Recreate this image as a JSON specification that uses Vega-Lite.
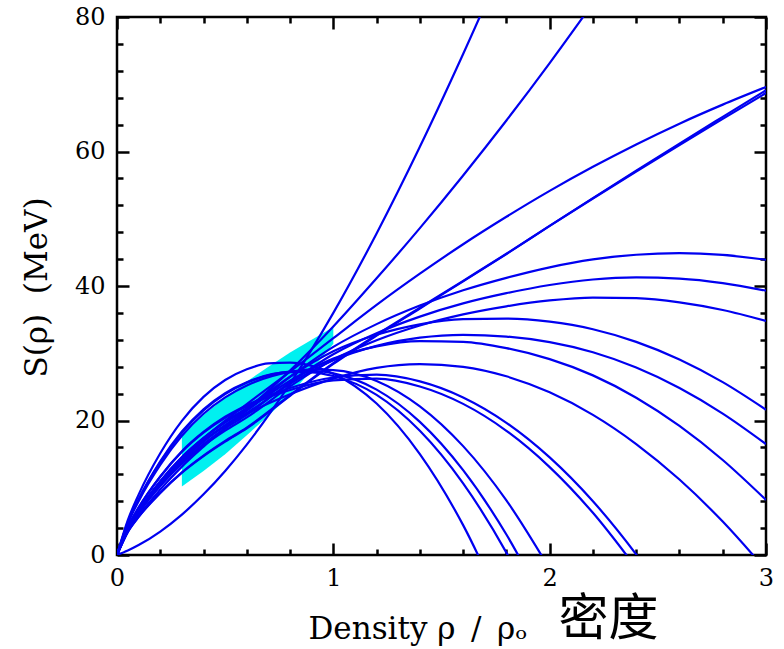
{
  "$schema": "https://vega.github.io/schema/vega-lite/v6.json",
  "width": 649,
  "height": 538,
  "autosize": {"type": "none"},
  "padding": {"left": 117, "top": 17, "right": 18, "bottom": 94},
  "background": "white",
  "config": {
    "view": {"stroke": "#000", "strokeWidth": 2.5},
    "axis": {"domain": false, "grid": false, "ticks": true, "tickColor": "#000", "tickOpacity": 1, "tickWidth": 2.5, "labelFont": "DejaVu Serif", "labelFontSize": 24, "labelColor": "#000", "titleColor": "#000"}
  },
  "datasets": {
    "band": [
      {"x": 0.3, "lo": 10.2, "hi": 17.8},
      {"x": 0.4, "lo": 12.5, "hi": 20.8},
      {"x": 0.5, "lo": 15.0, "hi": 23.4},
      {"x": 0.6, "lo": 17.8, "hi": 25.8},
      {"x": 0.7, "lo": 20.7, "hi": 28.0},
      {"x": 0.8, "lo": 23.8, "hi": 30.1},
      {"x": 0.9, "lo": 27.5, "hi": 32.0},
      {"x": 1.0, "lo": 31.4, "hi": 33.9}
    ],
    "curves": [
      {"c":"A1","x":0,"s":0},{"c":"A1","x":0.05,"s":0.67},{"c":"A1","x":0.1,"s":1.48},{"c":"A1","x":0.2,"s":3.49},{"c":"A1","x":0.3,"s":6.01},{"c":"A1","x":0.4,"s":9.02},{"c":"A1","x":0.5,"s":12.5},{"c":"A1","x":0.6,"s":16.42},{"c":"A1","x":0.8,"s":25.47},{"c":"A1","x":1.0,"s":36.0},{"c":"A1","x":1.2,"s":47.81},{"c":"A1","x":1.4,"s":60.7},{"c":"A1","x":1.6,"s":74.5},{"c":"A1","x":1.8,"s":89.0},
      {"c":"A2","x":0,"s":0},{"c":"A2","x":0.05,"s":3.51},{"c":"A2","x":0.1,"s":5.86},{"c":"A2","x":0.2,"s":9.73},{"c":"A2","x":0.3,"s":13.14},{"c":"A2","x":0.4,"s":16.12},{"c":"A2","x":0.5,"s":18.91},{"c":"A2","x":0.6,"s":21.63},{"c":"A2","x":0.8,"s":27.42},{"c":"A2","x":1.0,"s":33.98},{"c":"A2","x":1.2,"s":41.14},{"c":"A2","x":1.4,"s":48.61},{"c":"A2","x":1.6,"s":56.44},{"c":"A2","x":1.8,"s":64.61},{"c":"A2","x":2.0,"s":73.15},{"c":"A2","x":2.2,"s":82.05},
      {"c":"A3","x":0,"s":0},{"c":"A3","x":0.05,"s":3.79},{"c":"A3","x":0.1,"s":6.38},{"c":"A3","x":0.2,"s":10.62},{"c":"A3","x":0.3,"s":14.24},{"c":"A3","x":0.4,"s":17.29},{"c":"A3","x":0.5,"s":19.98},{"c":"A3","x":0.6,"s":22.45},{"c":"A3","x":0.8,"s":27.27},{"c":"A3","x":1.0,"s":32.24},{"c":"A3","x":1.2,"s":37.19},{"c":"A3","x":1.4,"s":41.83},{"c":"A3","x":1.6,"s":46.21},{"c":"A3","x":1.8,"s":50.29},{"c":"A3","x":2.0,"s":54.14},{"c":"A3","x":2.2,"s":57.72},{"c":"A3","x":2.4,"s":61.05},{"c":"A3","x":2.6,"s":64.14},{"c":"A3","x":2.8,"s":66.97},{"c":"A3","x":3.0,"s":69.59},
      {"c":"A4","x":0,"s":0},{"c":"A4","x":0.05,"s":3.43},{"c":"A4","x":0.1,"s":5.66},{"c":"A4","x":0.2,"s":9.22},{"c":"A4","x":0.3,"s":12.23},{"c":"A4","x":0.4,"s":14.7},{"c":"A4","x":0.5,"s":16.86},{"c":"A4","x":0.6,"s":18.85},{"c":"A4","x":0.8,"s":23.67},{"c":"A4","x":1.0,"s":28.41},{"c":"A4","x":1.2,"s":32.63},{"c":"A4","x":1.4,"s":36.66},{"c":"A4","x":1.6,"s":40.69},{"c":"A4","x":1.8,"s":44.75},{"c":"A4","x":2.0,"s":48.95},{"c":"A4","x":2.2,"s":53.07},{"c":"A4","x":2.4,"s":57.15},{"c":"A4","x":2.6,"s":61.18},{"c":"A4","x":2.8,"s":65.15},{"c":"A4","x":3.0,"s":69.1},
      {"c":"A5","x":0,"s":0},{"c":"A5","x":0.05,"s":3.44},{"c":"A5","x":0.1,"s":5.69},{"c":"A5","x":0.2,"s":9.27},{"c":"A5","x":0.3,"s":12.29},{"c":"A5","x":0.4,"s":14.78},{"c":"A5","x":0.5,"s":16.96},{"c":"A5","x":0.6,"s":18.95},{"c":"A5","x":0.8,"s":23.79},{"c":"A5","x":1.0,"s":28.54},{"c":"A5","x":1.2,"s":32.75},{"c":"A5","x":1.4,"s":36.76},{"c":"A5","x":1.6,"s":40.77},{"c":"A5","x":1.8,"s":44.79},{"c":"A5","x":2.0,"s":48.94},{"c":"A5","x":2.2,"s":53.01},{"c":"A5","x":2.4,"s":57.02},{"c":"A5","x":2.6,"s":60.97},{"c":"A5","x":2.8,"s":64.86},{"c":"A5","x":3.0,"s":68.7},
      {"c":"B1","x":0,"s":0},{"c":"B1","x":0.05,"s":3.79},{"c":"B1","x":0.1,"s":6.36},{"c":"B1","x":0.2,"s":10.52},{"c":"B1","x":0.3,"s":14.01},{"c":"B1","x":0.4,"s":16.86},{"c":"B1","x":0.5,"s":19.3},{"c":"B1","x":0.6,"s":21.46},{"c":"B1","x":0.8,"s":26.5},{"c":"B1","x":1.0,"s":30.94},{"c":"B1","x":1.2,"s":34.33},{"c":"B1","x":1.4,"s":37.09},{"c":"B1","x":1.6,"s":39.36},{"c":"B1","x":1.8,"s":41.21},{"c":"B1","x":2.0,"s":42.78},{"c":"B1","x":2.2,"s":43.95},{"c":"B1","x":2.4,"s":44.65},{"c":"B1","x":2.6,"s":44.88},{"c":"B1","x":2.8,"s":44.62},{"c":"B1","x":3.0,"s":43.9},
      {"c":"B2","x":0,"s":0},{"c":"B2","x":0.05,"s":3.75},{"c":"B2","x":0.1,"s":6.27},{"c":"B2","x":0.2,"s":10.34},{"c":"B2","x":0.3,"s":13.73},{"c":"B2","x":0.4,"s":16.48},{"c":"B2","x":0.5,"s":18.81},{"c":"B2","x":0.6,"s":20.86},{"c":"B2","x":0.8,"s":25.66},{"c":"B2","x":1.0,"s":29.86},{"c":"B2","x":1.2,"s":32.98},{"c":"B2","x":1.4,"s":35.45},{"c":"B2","x":1.6,"s":37.41},{"c":"B2","x":1.8,"s":38.93},{"c":"B2","x":2.0,"s":40.15},{"c":"B2","x":2.2,"s":40.97},{"c":"B2","x":2.4,"s":41.28},{"c":"B2","x":2.6,"s":41.11},{"c":"B2","x":2.8,"s":40.44},{"c":"B2","x":3.0,"s":39.3},
      {"c":"B3","x":0,"s":0},{"c":"B3","x":0.05,"s":3.72},{"c":"B3","x":0.1,"s":6.22},{"c":"B3","x":0.2,"s":10.24},{"c":"B3","x":0.3,"s":13.56},{"c":"B3","x":0.4,"s":16.25},{"c":"B3","x":0.5,"s":18.5},{"c":"B3","x":0.6,"s":20.46},{"c":"B3","x":0.8,"s":25.07},{"c":"B3","x":1.0,"s":29.05},{"c":"B3","x":1.2,"s":31.93},{"c":"B3","x":1.4,"s":34.13},{"c":"B3","x":1.6,"s":35.78},{"c":"B3","x":1.8,"s":36.98},{"c":"B3","x":2.0,"s":37.85},{"c":"B3","x":2.2,"s":38.28},{"c":"B3","x":2.4,"s":38.19},{"c":"B3","x":2.6,"s":37.57},{"c":"B3","x":2.8,"s":36.43},{"c":"B3","x":3.0,"s":34.8},
      {"c":"B4","x":0,"s":0},{"c":"B4","x":0.05,"s":3.92},{"c":"B4","x":0.1,"s":6.6},{"c":"B4","x":0.2,"s":10.93},{"c":"B4","x":0.3,"s":14.53},{"c":"B4","x":0.4,"s":17.41},{"c":"B4","x":0.5,"s":19.82},{"c":"B4","x":0.6,"s":21.88},{"c":"B4","x":0.8,"s":26.52},{"c":"B4","x":1.0,"s":30.29},{"c":"B4","x":1.2,"s":32.74},{"c":"B4","x":1.4,"s":34.29},{"c":"B4","x":1.6,"s":35.06},{"c":"B4","x":1.8,"s":35.15},{"c":"B4","x":2.0,"s":34.69},{"c":"B4","x":2.2,"s":33.57},{"c":"B4","x":2.4,"s":31.69},{"c":"B4","x":2.6,"s":29.07},{"c":"B4","x":2.8,"s":25.7},{"c":"B4","x":3.0,"s":21.6},
      {"c":"B5","x":0,"s":0},{"c":"B5","x":0.05,"s":3.86},{"c":"B5","x":0.1,"s":6.48},{"c":"B5","x":0.2,"s":10.7},{"c":"B5","x":0.3,"s":14.16},{"c":"B5","x":0.4,"s":16.93},{"c":"B5","x":0.5,"s":19.2},{"c":"B5","x":0.6,"s":21.12},{"c":"B5","x":0.8,"s":25.47},{"c":"B5","x":1.0,"s":28.95},{"c":"B5","x":1.2,"s":31.09},{"c":"B5","x":1.4,"s":32.31},{"c":"B5","x":1.6,"s":32.74},{"c":"B5","x":1.8,"s":32.48},{"c":"B5","x":2.0,"s":31.65},{"c":"B5","x":2.2,"s":30.14},{"c":"B5","x":2.4,"s":27.87},{"c":"B5","x":2.6,"s":24.83},{"c":"B5","x":2.8,"s":21.03},{"c":"B5","x":3.0,"s":16.5},
      {"c":"B6","x":0,"s":0},{"c":"B6","x":0.05,"s":3.94},{"c":"B6","x":0.1,"s":6.64},{"c":"B6","x":0.2,"s":10.99},{"c":"B6","x":0.3,"s":14.56},{"c":"B6","x":0.4,"s":17.38},{"c":"B6","x":0.5,"s":19.7},{"c":"B6","x":0.6,"s":21.63},{"c":"B6","x":0.8,"s":25.92},{"c":"B6","x":1.0,"s":29.2},{"c":"B6","x":1.2,"s":31.03},{"c":"B6","x":1.4,"s":31.81},{"c":"B6","x":1.6,"s":31.69},{"c":"B6","x":1.8,"s":30.76},{"c":"B6","x":2.0,"s":29.13},{"c":"B6","x":2.2,"s":26.71},{"c":"B6","x":2.4,"s":23.39},{"c":"B6","x":2.6,"s":19.2},{"c":"B6","x":2.8,"s":14.13},{"c":"B6","x":3.0,"s":8.19},
      {"c":"C1","x":0,"s":0},{"c":"C1","x":0.05,"s":5.18},{"c":"C1","x":0.1,"s":8.98},{"c":"C1","x":0.2,"s":15.12},{"c":"C1","x":0.3,"s":19.95},{"c":"C1","x":0.4,"s":23.51},{"c":"C1","x":0.5,"s":26.02},{"c":"C1","x":0.6,"s":27.61},{"c":"C1","x":0.7,"s":28.5},{"c":"C1","x":0.8,"s":28.6},{"c":"C1","x":0.9,"s":28.12},{"c":"C1","x":1.0,"s":26.96},{"c":"C1","x":1.2,"s":22.52},{"c":"C1","x":1.4,"s":15.0},{"c":"C1","x":1.6,"s":4.44},{"c":"C1","x":1.8,"s":-9.18},
      {"c":"C2","x":0,"s":0},{"c":"C2","x":0.05,"s":4.82},{"c":"C2","x":0.1,"s":8.31},{"c":"C2","x":0.2,"s":13.92},{"c":"C2","x":0.3,"s":18.36},{"c":"C2","x":0.4,"s":21.67},{"c":"C2","x":0.5,"s":24.08},{"c":"C2","x":0.6,"s":25.7},{"c":"C2","x":0.8,"s":27.19},{"c":"C2","x":0.9,"s":27.17},{"c":"C2","x":1.0,"s":26.61},{"c":"C2","x":1.2,"s":23.8},{"c":"C2","x":1.4,"s":18.47},{"c":"C2","x":1.6,"s":10.65},{"c":"C2","x":1.8,"s":0.35},{"c":"C2","x":2.0,"s":-12.41},
      {"c":"C3","x":0,"s":0},{"c":"C3","x":0.05,"s":4.78},{"c":"C3","x":0.1,"s":8.22},{"c":"C3","x":0.2,"s":13.77},{"c":"C3","x":0.3,"s":18.19},{"c":"C3","x":0.4,"s":21.5},{"c":"C3","x":0.5,"s":23.92},{"c":"C3","x":0.6,"s":25.61},{"c":"C3","x":0.8,"s":27.28},{"c":"C3","x":0.9,"s":27.4},{"c":"C3","x":1.0,"s":27.0},{"c":"C3","x":1.2,"s":24.59},{"c":"C3","x":1.4,"s":19.79},{"c":"C3","x":1.6,"s":12.61},{"c":"C3","x":1.8,"s":3.04},{"c":"C3","x":2.0,"s":-8.87},
      {"c":"C4","x":0,"s":0},{"c":"C4","x":0.05,"s":4.66},{"c":"C4","x":0.1,"s":8.01},{"c":"C4","x":0.2,"s":13.41},{"c":"C4","x":0.3,"s":17.73},{"c":"C4","x":0.4,"s":21.0},{"c":"C4","x":0.5,"s":23.45},{"c":"C4","x":0.6,"s":25.21},{"c":"C4","x":0.8,"s":27.22},{"c":"C4","x":0.9,"s":27.59},{"c":"C4","x":1.0,"s":27.5},{"c":"C4","x":1.2,"s":25.89},{"c":"C4","x":1.4,"s":22.11},{"c":"C4","x":1.6,"s":16.19},{"c":"C4","x":1.8,"s":8.12},{"c":"C4","x":2.0,"s":-2.07},
      {"c":"C5","x":0,"s":0},{"c":"C5","x":0.05,"s":4.16},{"c":"C5","x":0.1,"s":7.04},{"c":"C5","x":0.2,"s":11.64},{"c":"C5","x":0.3,"s":15.36},{"c":"C5","x":0.4,"s":18.2},{"c":"C5","x":0.5,"s":20.41},{"c":"C5","x":0.6,"s":22.1},{"c":"C5","x":0.8,"s":24.53},{"c":"C5","x":1.0,"s":25.96},{"c":"C5","x":1.2,"s":26.23},{"c":"C5","x":1.4,"s":25.06},{"c":"C5","x":1.6,"s":22.47},{"c":"C5","x":1.8,"s":18.47},{"c":"C5","x":2.0,"s":13.07},{"c":"C5","x":2.2,"s":6.27},{"c":"C5","x":2.4,"s":-1.92},
      {"c":"C6","x":0,"s":0},{"c":"C6","x":0.05,"s":4.16},{"c":"C6","x":0.1,"s":7.05},{"c":"C6","x":0.2,"s":11.69},{"c":"C6","x":0.3,"s":15.43},{"c":"C6","x":0.4,"s":18.3},{"c":"C6","x":0.5,"s":20.55},{"c":"C6","x":0.6,"s":22.28},{"c":"C6","x":0.8,"s":24.83},{"c":"C6","x":1.0,"s":26.39},{"c":"C6","x":1.2,"s":26.82},{"c":"C6","x":1.4,"s":25.82},{"c":"C6","x":1.6,"s":23.43},{"c":"C6","x":1.8,"s":19.66},{"c":"C6","x":2.0,"s":14.51},{"c":"C6","x":2.2,"s":7.99},{"c":"C6","x":2.4,"s":0.09},{"c":"C6","x":2.6,"s":-9.15},
      {"c":"C7","x":0,"s":0},{"c":"C7","x":0.05,"s":3.92},{"c":"C7","x":0.1,"s":6.58},{"c":"C7","x":0.2,"s":10.86},{"c":"C7","x":0.3,"s":14.33},{"c":"C7","x":0.4,"s":17.03},{"c":"C7","x":0.5,"s":19.22},{"c":"C7","x":0.6,"s":20.99},{"c":"C7","x":0.8,"s":23.9},{"c":"C7","x":1.0,"s":26.23},{"c":"C7","x":1.2,"s":27.83},{"c":"C7","x":1.4,"s":28.39},{"c":"C7","x":1.6,"s":27.98},{"c":"C7","x":1.8,"s":26.57},{"c":"C7","x":2.0,"s":24.19},{"c":"C7","x":2.2,"s":20.84},{"c":"C7","x":2.4,"s":16.5},{"c":"C7","x":2.6,"s":11.22},{"c":"C7","x":2.8,"s":4.97},{"c":"C7","x":3.0,"s":-2.22}
    ]
  },
  "layer": [
    {
      "data": {"name": "band"},
      "mark": {"type": "area", "color": "#00f0f0", "opacity": 1},
      "encoding": {
        "x": {"field": "x", "type": "quantitative", "scale": {"domain": [0, 3], "nice": false, "zero": false},
          "axis": {"orient": "bottom", "values": [0, 1, 2, 3], "format": "d", "offset": -12, "ticks": true, "tickSize": 12, "tickColor": "#000", "tickWidth": 2.5, "labelPadding": 11, "labelFlush": false,
            "title": "Density ρ\u2002/\u2002ρₒ", "titleFont": "DejaVu Serif", "titleFontSize": 31, "titleFontWeight": "normal", "titleX": 191, "titleY": 95, "titleAlign": "left", "titleBaseline": "alphabetic"}},
        "y": {"field": "lo", "type": "quantitative", "scale": {"domain": [0, 80], "nice": false},
          "axis": {"orient": "left", "values": [0, 20, 40, 60, 80], "offset": -12, "ticks": true, "tickSize": 12, "tickColor": "#000", "tickWidth": 2.5, "labelPadding": 12, "labelFlush": false,
            "title": "S(ρ)\u00a0\u00a0(MeV)", "titleFont": "DejaVu Serif", "titleFontSize": 31, "titleFontWeight": "normal", "titleAngle": -90, "titleX": -92, "titleY": 270, "titleAlign": "center", "titleBaseline": "middle"}},
        "y2": {"field": "hi"}
      }
    },
    {
      "data": {"name": "curves"},
      "transform": [{"filter": "indexof(datum.c, 'C') != 0"}],
      "mark": {"type": "line", "color": "#0000f0", "strokeWidth": 2.2, "clip": true, "interpolate": "monotone"},
      "encoding": {
        "x": {"field": "x", "type": "quantitative", "axis": {"orient": "bottom", "values": [0.2, 0.4, 0.6, 0.8, 1.2, 1.4, 1.6, 1.8, 2.2, 2.4, 2.6, 2.8], "offset": -6, "ticks": true, "tickSize": 6, "tickColor": "#000", "tickWidth": 2.5, "labels": false, "title": null}},
        "y": {"field": "s", "type": "quantitative", "axis": {"orient": "left", "values": [4, 8, 12, 16, 24, 28, 32, 36, 44, 48, 52, 56, 64, 68, 72, 76], "offset": -6, "ticks": true, "tickSize": 6, "tickColor": "#000", "tickWidth": 2.5, "labels": false, "title": null}},
        "detail": {"field": "c"}
      }
    },
    {
      "data": {"name": "curves"},
      "transform": [{"filter": "indexof(datum.c, 'C') == 0"}],
      "mark": {"type": "line", "color": "#0000f0", "strokeWidth": 2.2, "clip": true, "interpolate": "monotone"},
      "encoding": {
        "x": {"field": "x", "type": "quantitative", "axis": {"orient": "top", "values": [0.2, 0.4, 0.6, 0.8, 1.2, 1.4, 1.6, 1.8, 2.2, 2.4, 2.6, 2.8], "offset": -6, "ticks": true, "tickSize": 6, "tickColor": "#000", "tickWidth": 2.5, "labels": false, "title": null}},
        "y": {"field": "s", "type": "quantitative", "axis": {"orient": "right", "values": [4, 8, 12, 16, 24, 28, 32, 36, 44, 48, 52, 56, 64, 68, 72, 76], "offset": -6, "ticks": true, "tickSize": 6, "tickColor": "#000", "tickWidth": 2.5, "labels": false, "title": null}},
        "detail": {"field": "c"}
      }
    },
    {
      "data": {"values": [{"t": "密度"}]},
      "mark": {"type": "text", "font": "Noto Sans CJK SC", "fontSize": 50, "align": "center", "baseline": "middle", "color": "#000", "clip": false},
      "encoding": {
        "x": {"datum": 2.272, "type": "quantitative", "axis": {"orient": "top", "values": [0, 1, 2, 3], "offset": -12, "ticks": true, "tickSize": 12, "tickColor": "#000", "tickWidth": 2.5, "labels": false, "title": null}},
        "y": {"datum": -9.7, "type": "quantitative", "axis": {"orient": "right", "values": [0, 20, 40, 60, 80], "offset": -12, "ticks": true, "tickSize": 12, "tickColor": "#000", "tickWidth": 2.5, "labels": false, "title": null}},
        "text": {"field": "t"}
      }
    }
  ],
  "resolve": {"axis": {"x": "independent", "y": "independent"}}
}
